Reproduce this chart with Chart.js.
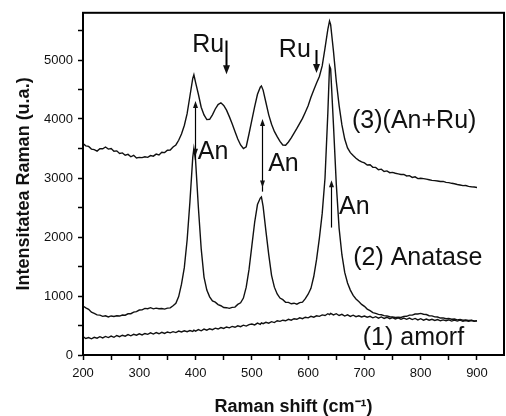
<!DOCTYPE html>
<html>
<head>
<meta charset="utf-8">
<script src="https://cdn.jsdelivr.net/npm/chart.js@4/dist/chart.umd.min.js"></script>
<style>
  html, body { margin: 0; padding: 0; background: #fff; }
  #wrap { width: 506px; height: 416px; }
</style>
</head>
<body>
<div id="wrap"><canvas id="raman" width="506" height="416"></canvas></div>
<script>
// Raman shift (cm-1)
const shift = [
    200, 205, 210, 215, 220, 225, 230, 235, 240, 245,
    250, 255, 260, 265, 270, 275, 280, 285, 290, 295,
    300, 305, 310, 315, 320, 325, 330, 335, 340, 345,
    350, 355, 360, 365, 370, 375, 380, 385, 390, 395,
    397, 400, 405, 410, 415, 420, 425, 430, 435, 440, 445,
    450, 455, 460, 465, 470, 475, 480, 485, 490, 495,
    500, 505, 510, 515, 517, 520, 525, 530, 535, 540, 545,
    550, 555, 560, 565, 570, 575, 580, 585, 590, 595,
    600, 605, 610, 615, 620, 625, 630, 635, 638, 640, 645,
    650, 655, 660, 665, 670, 675, 680, 685, 690, 695,
    700, 705, 710, 715, 720, 725, 730, 735, 740, 745,
    750, 755, 760, 765, 770, 775, 780, 785, 790, 795,
    800, 805, 810, 815, 820, 825, 830, 835, 840, 845,
    850, 855, 860, 865, 870, 875, 880, 885, 890, 895,
    900
];

// (1) amorf
const amorf = [
    310, 280, 295, 275, 300, 285, 310, 290, 315, 295,
    320, 300, 330, 310, 335, 320, 345, 325, 350, 335,
    360, 340, 365, 350, 375, 355, 380, 360, 385, 365,
    390, 375, 395, 380, 405, 390, 410, 395, 415, 400,
    420, 405, 430, 410, 440, 420, 445, 430, 455, 440, 465,
    450, 475, 460, 485, 470, 495, 480, 505, 490, 515,
    525, 510, 540, 520, 545, 530, 555, 540, 565, 550, 580,
    570, 590, 580, 605, 590, 615, 605, 630, 615, 640,
    630, 655, 640, 665, 655, 680, 670, 700, 685, 705, 680,
    700, 670, 690, 660, 680, 655, 675, 650, 665, 645,
    660, 640, 655, 630, 650, 625, 645, 620, 640, 615,
    635, 610, 630, 605, 625, 605, 625, 600, 620, 595,
    615, 590, 610, 590, 605, 585, 600, 580, 595, 580,
    595, 575, 590, 575, 590, 570, 585, 570, 585, 570,
    580
];

// (2) Anatase
const anatase = [
    830, 800, 775, 725, 705, 680, 675, 655, 665, 645,
    662, 652, 665, 660, 678, 675, 698, 700, 728, 735,
    762, 765, 790, 785, 802, 782, 795, 785, 788, 778,
    795, 798, 835, 875, 990, 1200, 1480, 1950, 2600, 3350,
    3500, 3300, 2500, 1800, 1320, 1100, 985, 915, 895, 855, 835,
    805, 802, 790, 808, 812, 858, 885, 965, 1150, 1450,
    1850, 2250, 2550, 2660, 2680, 2520, 2100, 1700, 1350, 1150, 1035,
    965, 938, 895, 892, 868, 878, 862, 888, 895, 955,
    1030, 1130, 1330, 1620, 1980, 2400, 3000, 4100, 4900, 4850, 3900,
    2900, 2150, 1700, 1400, 1220, 1100, 1010, 950, 905, 858,
    825, 778, 752, 718, 705, 688, 682, 668, 662, 648,
    645, 636, 640, 636, 655, 656, 675, 676, 695, 696,
    705, 690, 686, 666, 664, 646, 644, 626, 628, 614,
    618, 606, 610, 596, 604, 590, 594, 584, 590, 576,
    578
];

// (3)(An+Ru)
const anRu = [
    3585, 3545, 3535, 3490, 3480, 3455, 3495, 3495, 3525, 3490,
    3500, 3455, 3460, 3415, 3425, 3385, 3400, 3360, 3385, 3340,
    3350, 3345, 3360, 3350, 3380, 3370, 3405, 3390, 3435, 3430,
    3470, 3475, 3525, 3560, 3640, 3745, 3890, 4090, 4390, 4690,
    4750, 4620, 4420, 4200, 4070, 3990, 3995, 4070, 4170, 4245, 4275,
    4230, 4150, 4040, 3920, 3790, 3660, 3560, 3500, 3530, 3750,
    3980, 4210, 4420, 4540, 4560, 4490, 4280, 4070, 3910, 3790, 3700,
    3620, 3560, 3555, 3610, 3680, 3760, 3840, 3925, 4010, 4115,
    4225, 4370, 4490, 4610, 4720, 4900, 5200, 5520, 5660, 5600, 5150,
    4640, 4230, 3900, 3660, 3510, 3430, 3380, 3335, 3300, 3275,
    3255, 3220, 3225, 3180, 3180, 3140, 3150, 3110, 3120, 3090,
    3095, 3080, 3070, 3060, 3060, 3035, 3040, 3010, 3020, 2990,
    2995, 2990, 2980, 2970, 2960, 2955, 2950, 2940, 2942, 2925,
    2922, 2910, 2902, 2890, 2882, 2870, 2872, 2858, 2852, 2848,
    2840
];

// axis ticks (labels only on every second one)
const xTicks = [200, 250, 300, 350, 400, 450, 500, 550, 600, 650, 700, 750, 800, 850, 900];
const yTicks = [0, 500, 1000, 1500, 2000, 2500, 3000, 3500, 4000, 4500, 5000, 5500];

// text on the plot, placed in data units
const curveLabels = [
    { text: '(3)(An+Ru)', x: 678, y: 3970 },
    { text: '(2) Anatase', x: 680, y: 1640 },
    { text: '(1) amorf', x: 697, y: 290 },
    { text: 'Ru', x: 394, y: 5250 },
    { text: 'Ru', x: 548, y: 5170 },
    { text: 'An', x: 404, y: 3445 },
    { text: 'An', x: 529, y: 3240 },
    { text: 'An', x: 655, y: 2500 }
];

// vertical arrows: x, from, to, heads
const arrows = [
    { x: 454, from: 5330, to: 4760, heads: 'end', bold: true },
    { x: 614, from: 5170, to: 4780, heads: 'end', bold: true },
    { x: 399, from: 3378, to: 4307, heads: 'both', bold: false },
    { x: 518, from: 2840, to: 4000, heads: 'both', bold: false },
    { x: 640.5, from: 2160, to: 2960, heads: 'end', bold: false }
];

function toPoints(ys) {
    return shift.map((x, i) => ({ x: x, y: ys[i] }));
}

function head(ctx, px, py, dir, len, half) {
    // dir 1 points down, -1 points up
    ctx.beginPath();
    ctx.moveTo(px, py);
    ctx.lineTo(px - half, py - dir * len);
    ctx.lineTo(px + half, py - dir * len);
    ctx.closePath();
    ctx.fill();
}

const notes = {
    id: 'notes',
    afterDraw(chart) {
        const { ctx, chartArea: a, scales: { x, y } } = chart;
        ctx.save();
        ctx.strokeStyle = '#000';
        ctx.fillStyle = '#111';
        ctx.lineWidth = 2;
        ctx.strokeRect(a.left, a.top, a.right - a.left, a.bottom - a.top);

        arrows.forEach(ar => {
            const px = Math.round(x.getPixelForValue(ar.x)) + 0.5;
            const p0 = y.getPixelForValue(ar.from);
            const p1 = y.getPixelForValue(ar.to);
            const dir = p1 > p0 ? 1 : -1;
            const len = ar.bold ? 9 : 7;
            const half = ar.bold ? 3.5 : 2.5;
            ctx.lineWidth = ar.bold ? 2 : 1.2;
            ctx.beginPath();
            ctx.moveTo(px, p0 + (ar.heads === 'both' ? -dir * len * 0.6 : 0));
            ctx.lineTo(px, p1 - dir * len * 0.6);
            ctx.stroke();
            head(ctx, px, p1, dir, len, half);
            if (ar.heads === 'both') head(ctx, px, p0, -dir, len, half);
        });

        ctx.font = '25px "Liberation Sans", Arial, sans-serif';
        ctx.textAlign = 'left';
        ctx.textBaseline = 'middle';
        curveLabels.forEach(l => {
            ctx.fillText(l.text, x.getPixelForValue(l.x), y.getPixelForValue(l.y));
        });
        ctx.restore();
    }
};

Chart.defaults.font.family = '"Liberation Sans", Arial, sans-serif';
Chart.defaults.color = '#111';

const line = (label, ys) => ({
    label: label,
    data: toPoints(ys),
    borderColor: '#111',
    borderWidth: 1.4,
    pointRadius: 0,
    tension: 0,
    fill: false
});

new Chart(document.getElementById('raman'), {
    type: 'line',
    data: {
        datasets: [
            line('(1) amorf', amorf),
            line('(2) Anatase', anatase),
            line('(3)(An+Ru)', anRu)
        ]
    },
    options: {
        responsive: false,
        animation: false,
        layout: { padding: { top: 12, right: 2, left: 0, bottom: 0 } },
        plugins: {
            legend: { display: false },
            tooltip: { enabled: false }
        },
        scales: {
            x: {
                type: 'linear',
                min: 200,
                max: 948,
                afterBuildTicks: s => { s.ticks = xTicks.map(v => ({ value: v })); },
                afterFit: s => { s.height = 61; },
                border: { color: '#000', width: 2 },
                grid: { drawOnChartArea: false, drawTicks: true, tickLength: 5, tickColor: '#000', tickWidth: 1.5 },
                ticks: {
                    autoSkip: false,
                    maxRotation: 0,
                    padding: 6,
                    font: { size: 13 },
                    callback: v => (v % 100 === 0 ? String(v) : '')
                },
                title: {
                    display: true,
                    text: 'Raman shift (cm⁻¹)',
                    font: { size: 18, weight: 'bold', lineHeight: 1 },
                    padding: { top: 0, bottom: 0 }
                }
            },
            y: {
                min: 0,
                max: 5800,
                afterBuildTicks: s => { s.ticks = yTicks.map(v => ({ value: v })); },
                afterFit: s => { s.width = 83; },
                border: { color: '#000', width: 2 },
                grid: { drawOnChartArea: false, drawTicks: true, tickLength: 5, tickColor: '#000', tickWidth: 1.5 },
                ticks: {
                    autoSkip: false,
                    padding: 5,
                    font: { size: 13 },
                    callback: v => (v % 1000 === 0 ? String(v) : '')
                },
                title: {
                    display: true,
                    text: 'Intensitatea Raman (u.a.)',
                    font: { size: 18, weight: 'bold', lineHeight: 1 },
                    padding: { top: 15, bottom: 0 }
                }
            }
        }
    },
    plugins: [notes]
});
</script>
</body>
</html>
